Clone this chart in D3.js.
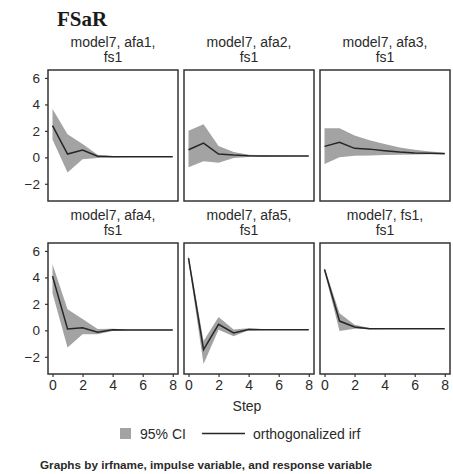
<!DOCTYPE html>
<html>
<head>
<meta charset="utf-8">
<script src="https://cdn.jsdelivr.net/npm/d3@7"></script>
<style>
  html, body { margin: 0; padding: 0; background: #fff; }
  svg { display: block; }
  text { font-family: "Liberation Sans", Arial, sans-serif; fill: #2a2a2a; }
</style>
</head>
<body>
<svg id="chart" width="453" height="474"></svg>
<script>
// Impulse-response steps and axis ticks
const steps = [0, 1, 2, 3, 4, 5, 6, 7, 8];
const xTicks = [0, 2, 4, 6, 8];
const yTicks = [-2, 0, 2, 4, 6];

// Panel titles (irfname, impulse, response)
const panelTitles = [
  ["model7, afa1,", "fs1"],
  ["model7, afa2,", "fs1"],
  ["model7, afa3,", "fs1"],
  ["model7, afa4,", "fs1"],
  ["model7, afa5,", "fs1"],
  ["model7, fs1,", "fs1"]
];

// Orthogonalized IRF, one row per impulse variable
const irf = [
  [2.4, 0.25, 0.55, 0.08, 0.05, 0.05, 0.05, 0.05, 0.05],
  [0.57, 1.08, 0.25, 0.17, 0.12, 0.1, 0.1, 0.1, 0.1],
  [0.83, 1.13, 0.68, 0.62, 0.5, 0.4, 0.33, 0.3, 0.28],
  [4.1, 0.1, 0.2, -0.15, 0.05, 0.03, 0.03, 0.03, 0.03],
  [5.45, -1.45, 0.45, -0.2, 0.07, 0.05, 0.05, 0.05, 0.05],
  [4.6, 0.7, 0.25, 0.12, 0.12, 0.12, 0.12, 0.12, 0.12]
];

// Lower bound of the 95% confidence interval
const ciLower = [
  [1.35, -1.15, -0.15, -0.05, 0.0, 0.02, 0.03, 0.03, 0.03],
  [-0.75, -0.3, -0.4, -0.05, 0.02, 0.05, 0.07, 0.08, 0.08],
  [-0.5, 0.0, 0.12, 0.13, 0.17, 0.2, 0.22, 0.24, 0.25],
  [2.8, -1.3, -0.3, -0.3, -0.05, 0.0, 0.0, 0.0, 0.0],
  [5.2, -2.55, 0.05, -0.45, 0.0, 0.02, 0.03, 0.03, 0.03],
  [4.45, -0.05, 0.12, 0.08, 0.1, 0.1, 0.1, 0.1, 0.1]
];

// Upper bound of the 95% confidence interval
const ciUpper = [
  [3.65, 1.75, 1.0, 0.2, 0.1, 0.08, 0.07, 0.07, 0.07],
  [2.0, 2.5, 0.85, 0.4, 0.2, 0.15, 0.13, 0.12, 0.12],
  [2.2, 2.2, 1.65, 1.3, 1.0, 0.75, 0.57, 0.45, 0.36],
  [5.0, 1.6, 0.85, 0.1, 0.12, 0.06, 0.06, 0.06, 0.06],
  [5.7, -0.8, 1.0, 0.07, 0.15, 0.08, 0.07, 0.07, 0.07],
  [4.75, 1.3, 0.42, 0.18, 0.14, 0.14, 0.14, 0.14, 0.14]
];

const svg = d3.select("#chart");

// Grid of small multiples
const colLeft = [48, 184, 320];
const rowTop = [70, 243];
const pw = 130, ph = 131;

const x = d3.scaleLinear().domain([-0.3, 8.35]).range([0, pw]);
const y = d3.scaleLinear().domain([-3.3, 6.6]).range([ph, 0]);

const bandColor = "#a3a3a3";
const lineColor = "#262626";
const frameColor = "#333";

const area = d3.area()
  .x((d, i) => x(steps[i]))
  .y0(d => y(d[0]))
  .y1(d => y(d[1]));

const line = d3.line()
  .x((d, i) => x(steps[i]))
  .y(d => y(d));

// Overall title
svg.append("text")
  .attr("x", 57).attr("y", 26)
  .style("font-family", "'Liberation Serif', 'Times New Roman', serif")
  .style("font-weight", "bold")
  .style("font-size", "21px")
  .style("fill", "#1a1a1a")
  .text("FSaR");

panelTitles.forEach((title, p) => {
  const col = p % 3, row = Math.floor(p / 3);
  const g = svg.append("g")
    .attr("transform", `translate(${colLeft[col]},${rowTop[row]})`);

  // Panel heading, two lines
  const ht = g.append("text")
    .attr("x", pw / 2)
    .attr("text-anchor", "middle")
    .style("font-size", "14px");
  ht.append("tspan").attr("x", pw / 2).attr("y", -23).text(title[0]);
  ht.append("tspan").attr("x", pw / 2).attr("y", -8).text(title[1]);

  // Confidence band
  const band = ciLower[p].map((lo, i) => [lo, ciUpper[p][i]]);
  g.append("path")
    .datum(band)
    .attr("d", area)
    .attr("fill", bandColor)
    .attr("stroke", "none");

  // IRF line
  g.append("path")
    .datum(irf[p])
    .attr("d", line)
    .attr("fill", "none")
    .attr("stroke", lineColor)
    .attr("stroke-width", 1.5);

  // Frame
  g.append("rect")
    .attr("x", 0).attr("y", 0)
    .attr("width", pw).attr("height", ph)
    .attr("fill", "none")
    .attr("stroke", frameColor)
    .attr("stroke-width", 1.5);

  // Y axis on the first column
  if (col === 0) {
    const ya = g.append("g")
      .call(d3.axisLeft(y).tickValues(yTicks).tickSize(3).tickPadding(5));
    ya.select(".domain").remove();
    ya.selectAll("line").attr("stroke", frameColor).attr("stroke-width", 1.2);
    ya.selectAll("text")
      .style("font-size", "13.5px")
      .style("font-family", "'Liberation Sans', Arial, sans-serif")
      .attr("fill", "#2a2a2a");
  }

  // X axis on the bottom row
  if (row === 1) {
    const xa = g.append("g")
      .attr("transform", `translate(0,${ph})`)
      .call(d3.axisBottom(x).tickValues(xTicks).tickSize(3).tickPadding(3));
    xa.select(".domain").remove();
    xa.selectAll("line").attr("stroke", frameColor).attr("stroke-width", 1.2);
    xa.selectAll("text")
      .style("font-size", "14px")
      .style("font-family", "'Liberation Sans', Arial, sans-serif")
      .attr("fill", "#2a2a2a");
  }
});

// X axis title
svg.append("text")
  .attr("x", 247).attr("y", 411)
  .attr("text-anchor", "middle")
  .style("font-size", "14px")
  .text("Step");

// Legend
const lg = svg.append("g");
lg.append("rect")
  .attr("x", 120).attr("y", 428)
  .attr("width", 11).attr("height", 11)
  .attr("fill", bandColor);
lg.append("text")
  .attr("x", 140).attr("y", 439)
  .style("font-size", "14px")
  .text("95% CI");
lg.append("line")
  .attr("x1", 202).attr("x2", 245)
  .attr("y1", 433.5).attr("y2", 433.5)
  .attr("stroke", lineColor)
  .attr("stroke-width", 1.3);
lg.append("text")
  .attr("x", 253).attr("y", 439)
  .style("font-size", "14px")
  .text("orthogonalized irf");

// Note
svg.append("text")
  .attr("x", 40).attr("y", 469)
  .style("font-size", "10.5px")
  .style("font-weight", "bold")
  .attr("textLength", 332)
  .attr("lengthAdjust", "spacingAndGlyphs")
  .text("Graphs by irfname, impulse variable, and response variable");
</script>
</body>
</html>
